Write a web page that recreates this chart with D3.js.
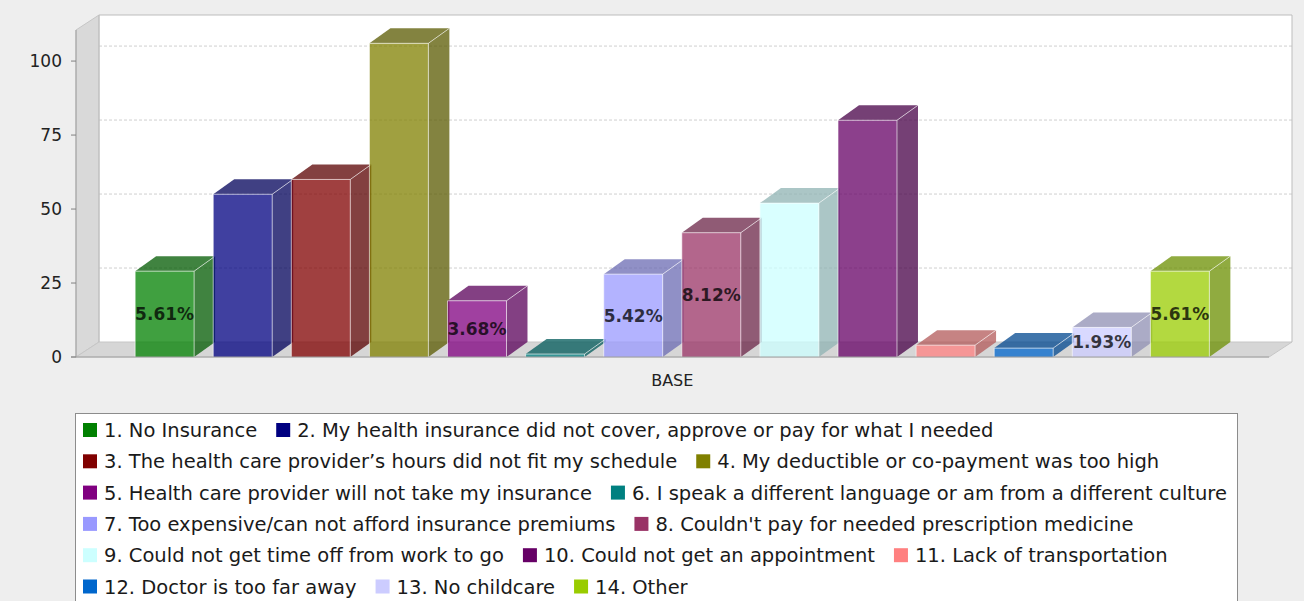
<!DOCTYPE html>
<html>
<head>
<meta charset="utf-8">
<script src="https://cdn.jsdelivr.net/npm/d3@7"></script>
<style>
  body { margin: 0; background: #eeeeee; }
  svg { display: block; font-family: "DejaVu Sans", sans-serif; }
  .tick-label { font-size: 17px; fill: #222; }
  .bar-label { font-size: 17px; font-weight: bold; fill: #000; fill-opacity: 0.75; }
  .legend-text { font-size: 19.5px; fill: #1a1a1a; }
</style>
</head>
<body>
<svg width="1304" height="601"></svg>
<script>
// set data
const categories = [
  "1. No Insurance",
  "2. My health insurance did not cover, approve or pay for what I needed",
  "3. The health care provider\u2019s hours did not fit my schedule",
  "4. My deductible or co-payment was too high",
  "5. Health care provider will not take my insurance",
  "6. I speak a different language or am from a different culture",
  "7. Too expensive/can not afford insurance premiums",
  "8. Couldn't pay for needed prescription medicine",
  "9. Could not get time off from work to go",
  "10. Could not get an appointment",
  "11. Lack of transportation",
  "12. Doctor is too far away",
  "13. No childcare",
  "14. Other"
];

const values = [29, 55, 60, 106, 19, 1, 28, 42, 52, 80, 4, 3, 10, 29];

const barLabels = ["5.61%", "", "", "", "3.68%", "", "5.42%", "8.12%", "", "", "", "", "1.93%", "5.61%"];

const colors = ["#008000", "#000080", "#800000", "#808000", "#800080", "#008080", "#9999ff",
  "#993366", "#ccffff", "#660066", "#ff8080", "#0066cc", "#ccccff", "#99cc00"];

const yTicks = [0, 25, 50, 75, 100];

const groupName = "BASE";

const legendRows = [[0, 1], [2, 3], [4, 5], [6, 7], [8, 9, 10], [11, 12, 13]];

// set global constants
const svg = d3.select("svg");

const plotLeft = 76, plotRight = 1269, plotTop = 30, plotBottom = 357;
const wallDx = 23, wallDy = 15;
const barDx = 21, barDy = 15;

const y = d3.scaleLinear()
  .domain([0, 110.5])
  .range([plotBottom, plotTop]);

const x = d3.scaleBand()
  .domain(d3.range(values.length))
  .range([116, 1228.5])
  .padding(0.245);

// background
svg.append("rect")
  .attr("width", 1304)
  .attr("height", 601)
  .attr("fill", "#eeeeee");

// back wall
svg.append("rect")
  .attr("x", plotLeft + wallDx)
  .attr("y", plotTop - wallDy)
  .attr("width", plotRight - plotLeft)
  .attr("height", plotBottom - plotTop)
  .attr("fill", "#ffffff");

// gridlines on the back wall
svg.selectAll(".grid")
  .data(yTicks.filter(d => d > 0))
  .enter()
  .append("line")
  .attr("class", "grid")
  .attr("x1", plotLeft + wallDx)
  .attr("x2", plotRight + wallDx)
  .attr("y1", d => y(d) - wallDy)
  .attr("y2", d => y(d) - wallDy)
  .attr("stroke", "#cfcfcf")
  .attr("stroke-dasharray", "3,2");

// left wall and floor
svg.append("polygon")
  .attr("points", [[plotLeft, plotTop], [plotLeft + wallDx, plotTop - wallDy], [plotLeft + wallDx, plotBottom - wallDy], [plotLeft, plotBottom]].join(" "))
  .attr("fill", "#d9d9d9")
  .attr("stroke", "#c6c6c6");

svg.append("polygon")
  .attr("points", [[plotLeft, plotBottom], [plotLeft + wallDx, plotBottom - wallDy], [plotRight + wallDx, plotBottom - wallDy], [plotRight, plotBottom]].join(" "))
  .attr("fill", "#d6d6d6")
  .attr("stroke", "#c6c6c6");

// plot outline
svg.append("path")
  .attr("d", `M${plotLeft + wallDx},${plotBottom - wallDy}V${plotTop - wallDy}H${plotRight + wallDx}V${plotBottom - wallDy}`)
  .attr("fill", "none")
  .attr("stroke", "#bdbdbd");

// append bars
const bw = x.bandwidth();

const bar = svg.selectAll(".bar")
  .data(values)
  .enter()
  .append("g")
  .attr("class", "bar");

bar.append("polygon")
  .attr("points", (d, i) => {
    const x0 = x(i), yt = y(d);
    return [[x0 + bw, yt], [x0 + bw + barDx, yt - barDy], [x0 + bw + barDx, plotBottom - barDy], [x0 + bw, plotBottom]].join(" ");
  })
  .attr("fill", (d, i) => d3.color(colors[i]).darker(1))
  .attr("fill-opacity", 0.75);

bar.append("polygon")
  .attr("points", (d, i) => {
    const x0 = x(i), yt = y(d);
    return [[x0, yt], [x0 + barDx, yt - barDy], [x0 + bw + barDx, yt - barDy], [x0 + bw, yt]].join(" ");
  })
  .attr("fill", (d, i) => d3.color(colors[i]).darker(1))
  .attr("fill-opacity", 0.75);

bar.append("rect")
  .attr("x", (d, i) => x(i))
  .attr("y", d => y(d))
  .attr("width", bw)
  .attr("height", d => plotBottom - y(d))
  .attr("fill", (d, i) => colors[i])
  .attr("fill-opacity", 0.75);

// light edges
bar.append("path")
  .attr("d", (d, i) => {
    const x0 = x(i), yt = y(d);
    return `M${x0},${plotBottom}V${yt}H${x0 + bw}V${plotBottom}M${x0 + bw},${yt}l${barDx},${-barDy}`;
  })
  .attr("fill", "none")
  .attr("stroke", "#ffffff")
  .attr("stroke-opacity", 0.6);

// bar labels
bar.append("text")
  .attr("class", "bar-label")
  .attr("x", (d, i) => x(i) + bw / 2)
  .attr("y", d => (y(d) + plotBottom) / 2)
  .attr("dy", "0.35em")
  .attr("text-anchor", "middle")
  .text((d, i) => barLabels[i]);

// axes
svg.append("line")
  .attr("x1", plotLeft)
  .attr("x2", plotLeft)
  .attr("y1", plotTop)
  .attr("y2", plotBottom)
  .attr("stroke", "#a0a0a0");

svg.append("line")
  .attr("x1", plotLeft - 5)
  .attr("x2", plotRight)
  .attr("y1", plotBottom)
  .attr("y2", plotBottom)
  .attr("stroke", "#a0a0a0");

svg.selectAll(".tick")
  .data(yTicks)
  .enter()
  .append("line")
  .attr("class", "tick")
  .attr("x1", plotLeft - 5)
  .attr("x2", plotLeft)
  .attr("y1", d => y(d))
  .attr("y2", d => y(d))
  .attr("stroke", "#808080");

svg.selectAll(".tick-label")
  .data(yTicks)
  .enter()
  .append("text")
  .attr("class", "tick-label")
  .attr("x", plotLeft - 14)
  .attr("y", d => y(d))
  .attr("dy", "0.36em")
  .attr("text-anchor", "end")
  .text(d => d);

svg.append("text")
  .attr("x", (x(0) + x(values.length - 1) + bw) / 2)
  .attr("y", 386)
  .attr("text-anchor", "middle")
  .attr("font-size", "16px")
  .attr("fill", "#222")
  .text(groupName);

// append legend
svg.append("rect")
  .attr("x", 75.5)
  .attr("y", 413.5)
  .attr("width", 1162)
  .attr("height", 220)
  .attr("fill", "#ffffff")
  .attr("stroke", "#8c8c8c");

legendRows.forEach((row, r) => {
  let cx = 83;
  const cy = 430 + r * 31.3;
  row.forEach(i => {
    svg.append("rect")
      .attr("x", cx)
      .attr("y", cy - 7)
      .attr("width", 14)
      .attr("height", 14)
      .attr("fill", colors[i]);
    const t = svg.append("text")
      .attr("class", "legend-text")
      .attr("x", cx + 21)
      .attr("y", cy)
      .attr("dy", "0.36em")
      .text(categories[i]);
    cx += 21 + t.node().getComputedTextLength() + 19;
  });
});
</script>
</body>
</html>
